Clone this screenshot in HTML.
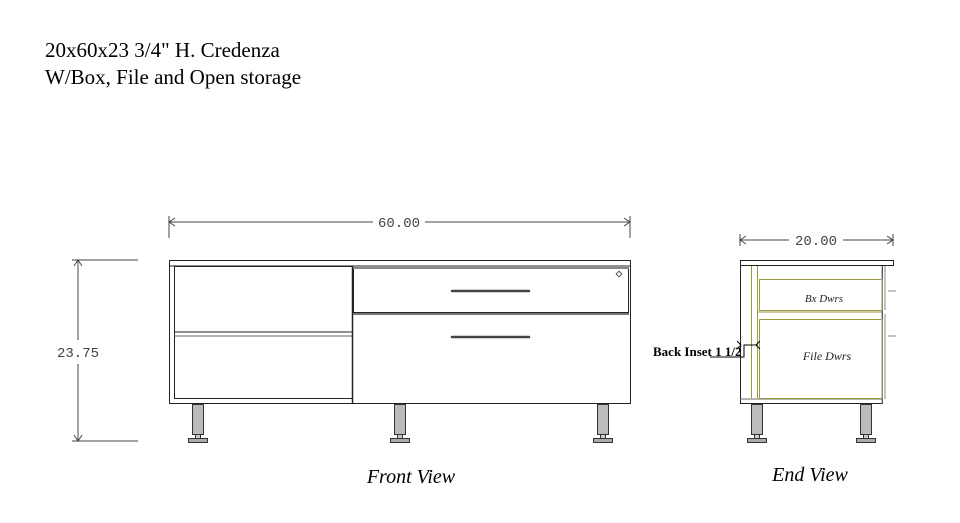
<!DOCTYPE html>
<html><head><meta charset="utf-8"><style>
html,body{margin:0;padding:0;background:#fff;width:960px;height:523px;overflow:hidden}
svg{display:block}
</style></head><body>
<svg width="960" height="523" viewBox="0 0 960 523" xmlns="http://www.w3.org/2000/svg">
<text x="45" y="57" font-family="Liberation Serif, serif" font-size="21" fill="#000">20x60x23 3/4" H. Credenza</text>
<text x="45" y="84" font-family="Liberation Serif, serif" font-size="21" fill="#000">W/Box, File and Open storage</text>

<g stroke="#444" stroke-width="1" fill="none">
<line x1="169" y1="216" x2="169" y2="238"/><line x1="630" y1="216" x2="630" y2="238"/>
<line x1="169" y1="222" x2="373" y2="222"/><line x1="425" y1="222" x2="630" y2="222"/>
<polyline points="175,218 169,222 175,226"/><polyline points="624,218 630,222 624,226"/>
<line x1="740" y1="234" x2="740" y2="246"/><line x1="893" y1="234" x2="893" y2="246"/>
<line x1="740" y1="240" x2="789" y2="240"/><line x1="843" y1="240" x2="893" y2="240"/>
<polyline points="746,236 740,240 746,244"/><polyline points="887,236 893,240 887,244"/>
<line x1="72" y1="260" x2="138" y2="260"/><line x1="72" y1="441" x2="138" y2="441"/>
<line x1="78" y1="260" x2="78" y2="340"/><line x1="78" y1="364" x2="78" y2="441"/>
<polyline points="74,266 78,260 82,266"/><polyline points="74,435 78,441 82,435"/>
</g>
<text x="399" y="227" text-anchor="middle" font-family="Liberation Mono, monospace" font-size="14" fill="#444">60.00</text>
<text x="816" y="245" text-anchor="middle" font-family="Liberation Mono, monospace" font-size="14" fill="#444">20.00</text>
<text x="78" y="357" text-anchor="middle" font-family="Liberation Mono, monospace" font-size="14" fill="#444">23.75</text>

<g stroke="#222" stroke-width="1" fill="#fff">
<rect x="169.5" y="260.5" width="461" height="143"/>
<line x1="169" y1="266" x2="630" y2="266"/>
<rect x="174.5" y="266.5" width="178" height="132"/>
<line x1="174" y1="332" x2="352" y2="332"/><line x1="174" y1="336" x2="352" y2="336" stroke="#666"/>
<line x1="352.5" y1="266" x2="352.5" y2="404" stroke-width="1.5"/>
<rect x="353.5" y="267.5" width="275" height="45"/>
<line x1="353" y1="314" x2="629" y2="314" stroke="#777" stroke-width="2"/>
<line x1="353" y1="268" x2="629" y2="268" stroke="#888" stroke-width="2"/>
</g>
<g stroke="#444" stroke-width="2.5" stroke-linecap="round">
<line x1="452" y1="291" x2="529" y2="291"/><line x1="452" y1="337" x2="529" y2="337"/>
</g>
<rect x="617" y="272" width="4" height="4" transform="rotate(45 619 274)" fill="#fff" stroke="#555"/>
<g stroke="#333" stroke-width="1">
<rect x="192.5" y="404.5" width="11" height="30" fill="#bbb"/>
<rect x="195.5" y="434.5" width="5" height="4" fill="#ccc"/>
<rect x="188.5" y="438.5" width="19" height="4" fill="#aaa"/>
<rect x="394.5" y="404.5" width="11" height="30" fill="#bbb"/>
<rect x="397.5" y="434.5" width="5" height="4" fill="#ccc"/>
<rect x="390.5" y="438.5" width="19" height="4" fill="#aaa"/>
<rect x="597.5" y="404.5" width="11" height="30" fill="#bbb"/>
<rect x="600.5" y="434.5" width="5" height="4" fill="#ccc"/>
<rect x="593.5" y="438.5" width="19" height="4" fill="#aaa"/>
</g>
<text x="411" y="483" text-anchor="middle" font-family="Liberation Serif, serif" font-style="italic" font-size="20" fill="#000">Front View</text>

<g stroke="#222" stroke-width="1" fill="#fff">
<rect x="740.5" y="260.5" width="142" height="143"/>
<rect x="740.5" y="260.5" width="153" height="5"/>
<line x1="740" y1="399" x2="882" y2="399" stroke="#666"/>
</g>
<g stroke="#9a9a40" stroke-width="1" fill="none">
<line x1="751.5" y1="266" x2="751.5" y2="398"/>
<line x1="757.5" y1="266" x2="757.5" y2="398"/>
<rect x="759.5" y="279.5" width="123" height="31"/>
<rect x="759.5" y="319.5" width="123" height="79"/>
<line x1="757" y1="312" x2="882" y2="312"/>
</g>
<g stroke="#888" stroke-width="1"><line x1="882" y1="266" x2="882" y2="404"/><line x1="885" y1="266" x2="885" y2="310"/><line x1="885" y1="314" x2="885" y2="399"/>
<line x1="888" y1="291" x2="896" y2="291"/><line x1="888" y1="336" x2="896" y2="336"/></g>
<text x="824" y="302" text-anchor="middle" font-family="Liberation Serif, serif" font-style="italic" font-size="11" fill="#222">Bx Dwrs</text>
<text x="827" y="360" text-anchor="middle" font-family="Liberation Serif, serif" font-style="italic" font-size="12" fill="#222">File Dwrs</text>
<text x="653" y="356" font-family="Liberation Serif, serif" font-weight="bold" font-size="13" fill="#000">Back Inset 1 1/2</text>
<g stroke="#000" stroke-width="1" fill="none">
<polyline points="710,357 744,357 744,345 757,345"/>
<polyline points="737,341 741,345 737,349"/><polyline points="760,341 756,345 760,349"/>
</g>
<g stroke="#333" stroke-width="1">
<rect x="751.5" y="404.5" width="11" height="30" fill="#bbb"/>
<rect x="754.5" y="434.5" width="5" height="4" fill="#ccc"/>
<rect x="747.5" y="438.5" width="19" height="4" fill="#aaa"/>
<rect x="860.5" y="404.5" width="11" height="30" fill="#bbb"/>
<rect x="863.5" y="434.5" width="5" height="4" fill="#ccc"/>
<rect x="856.5" y="438.5" width="19" height="4" fill="#aaa"/>
</g>
<text x="810" y="481" text-anchor="middle" font-family="Liberation Serif, serif" font-style="italic" font-size="20" fill="#000">End View</text>
</svg>
</body></html>
